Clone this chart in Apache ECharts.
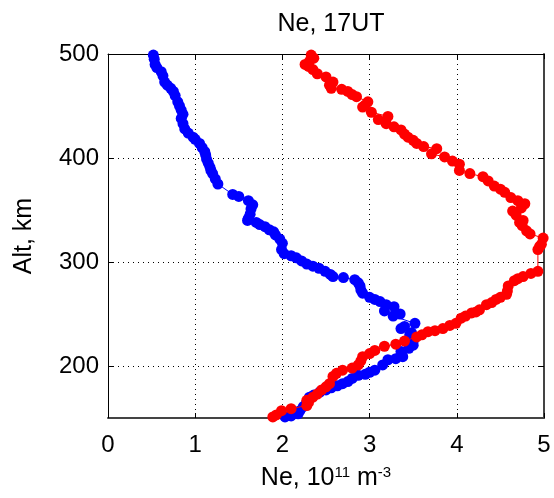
<!DOCTYPE html>
<html>
<head>
<meta charset="utf-8">
<script src="https://cdn.jsdelivr.net/npm/echarts@6/dist/echarts.min.js"></script>
<style>html,body{margin:0;padding:0;background:#fff;}#chart{width:554px;height:498px;}</style>
</head>
<body>
<div id="chart"></div>
<script>
var titleText = 'Ne, 17UT';
var xTicks = [0, 1, 2, 3, 4, 5];
var yTicks = [200, 300, 400, 500];

var blueNe  = [2.03, 2.10, 2.18, 2.20, 2.24, 2.28, 2.31, 2.36, 2.43, 2.50, 2.56, 2.63, 2.69, 2.75, 2.80, 2.87, 2.95, 3.00, 3.06, 3.15, 3.21, 3.30, 3.38, 3.36, 3.45, 3.50, 3.50, 3.46, 3.48, 3.36, 3.40, 3.52, 3.27, 3.35, 3.17, 3.28, 3.19, 3.12, 3.06, 3.00, 2.92, 2.90, 2.89, 2.87, 2.83, 2.70, 2.58, 2.55, 2.49, 2.42, 2.35, 2.28, 2.22, 2.16, 2.10, 2.02, 1.99, 2.00, 1.97, 1.92, 1.90, 1.85, 1.80, 1.74, 1.70, 1.60, 1.61, 1.63, 1.64, 1.66, 1.61, 1.50, 1.43, 1.26, 1.23, 1.20, 1.18, 1.17, 1.15, 1.13, 1.12, 1.11, 1.08, 1.05, 1.00, 0.975, 0.92, 0.88, 0.86, 0.84, 0.86, 0.84, 0.82, 0.80, 0.77, 0.75, 0.72, 0.68, 0.65, 0.63, 0.61, 0.56, 0.54, 0.53, 0.52];
var blueAlt = [151, 152, 154, 157, 161, 165, 170, 172, 175, 177, 179, 181, 183, 185, 188, 191, 192, 194, 196, 201, 206, 207, 209, 214, 217, 220, 224, 230, 232, 236, 238, 241, 248, 250, 253, 257, 259, 262, 264, 266, 270, 273, 277, 280, 283, 285, 286, 288, 291, 294, 296, 298, 301, 304, 306, 308, 312, 318, 322, 326, 329, 331, 334, 336, 338, 340, 342, 346, 351, 355, 359, 363, 365, 375, 380, 385, 388, 391, 395, 399, 403, 406, 410, 414, 418, 420, 424, 428, 433, 438, 442, 446, 450, 454, 460, 464, 467, 470, 473, 479, 483, 487, 490, 495, 499];

var redNe  = [1.89, 1.93, 1.99, 2.10, 2.28, 2.30, 2.28, 2.35, 2.40, 2.45, 2.50, 2.54, 2.58, 2.62, 2.69, 2.80, 2.87, 2.90, 2.92, 3.00, 3.06, 3.17, 3.30, 3.40, 3.54, 3.60, 3.67, 3.75, 3.84, 3.92, 3.99, 4.05, 4.10, 4.17, 4.22, 4.26, 4.34, 4.40, 4.45, 4.50, 4.57, 4.58, 4.59, 4.66, 4.70, 4.76, 4.85, 4.93, 4.93, 4.95, 4.97, 4.99, 4.84, 4.80, 4.75, 4.72, 4.76, 4.68, 4.64, 4.74, 4.78, 4.70, 4.62, 4.55, 4.50, 4.43, 4.36, 4.30, 4.15, 4.03, 4.03, 3.95, 3.86, 3.71, 3.77, 3.62, 3.54, 3.50, 3.44, 3.40, 3.36, 3.28, 3.19, 3.10, 3.21, 3.02, 2.92, 2.95, 2.98, 2.85, 2.80, 2.75, 2.68, 2.56, 2.54, 2.58, 2.50, 2.40, 2.35, 2.30, 2.26, 2.31, 2.36, 2.33];
var redAlt = [151, 153, 157, 159, 162, 165, 167, 170, 173, 177, 180, 183, 190, 193, 196, 198, 201, 205, 209, 212, 215, 219, 221, 224, 228, 230, 233, 234, 236, 239, 241, 246, 248, 251, 252, 254, 259, 261, 264, 266, 269, 272, 277, 282, 284, 286, 289, 291, 312, 315, 317, 323, 327, 330, 335, 338, 340, 345, 349, 352, 356, 359, 362, 367, 370, 373, 378, 382, 385, 388, 394, 397, 401, 404, 409, 411, 414, 417, 420, 423, 427, 430, 433, 437, 440, 444, 449, 451, 454, 459, 461, 464, 466, 467, 470, 473, 478, 481, 485, 488, 490, 493, 496, 499];

function pairs(xs, ys) { var out = []; for (var i = 0; i < xs.length; i++) out.push([xs[i], ys[i]]); return out; }

var FONT = 'Liberation Sans';
var chart = echarts.init(document.getElementById('chart'));
var dotted = { color: '#000', width: 1, type: [1, 4] };
function tick() { return { show: true, inside: true, length: 5, lineStyle: { color: '#000' } }; }
chart.setOption({
  animation: false,
  backgroundColor: '#fff',
  title: { text: titleText, left: 326, top: 7, textAlign: 'center',
    textStyle: { fontFamily: FONT, fontSize: 25, fontWeight: 'normal', color: '#000' } },
  grid: { left: 108, right: 10, top: 54, bottom: 80 },
  xAxis: [{
    type: 'value', min: 0, max: 5, interval: 1, position: 'bottom',
    name: 'Ne, 10{sup|11} m{sup|-3}', nameLocation: 'middle', nameGap: 47,
    nameTextStyle: { fontFamily: FONT, fontSize: 25, color: '#000',
      rich: { sup: { fontFamily: FONT, fontSize: 15, color: '#000', verticalAlign: 'top', padding: [0, 0, 12, 0] } } },
    axisLine: { show: true, onZero: false, lineStyle: { color: '#444', width: 2 } },
    axisTick: tick(),
    axisLabel: { fontFamily: FONT, fontSize: 24, color: '#000', margin: 15,
      formatter: function (v) { return xTicks.indexOf(v) >= 0 ? String(v) : ''; } },
    splitLine: { show: true, lineStyle: dotted }
  }, {
    type: 'value', min: 0, max: 5, interval: 1, position: 'top',
    axisLine: { show: true, onZero: false, lineStyle: { color: '#000', width: 1 } },
    axisTick: tick(), axisLabel: { show: false }, splitLine: { show: false }
  }],
  yAxis: [{
    type: 'value', min: 150, max: 500, interval: 50, position: 'left',
    name: 'Alt, km', nameLocation: 'middle', nameGap: 71, nameRotate: 90,
    nameTextStyle: { fontFamily: FONT, fontSize: 25, color: '#000' },
    axisLine: { show: true, onZero: false, lineStyle: { color: '#000', width: 1 } },
    axisTick: { show: true, inside: true, length: 5, lineStyle: { color: '#000' }, customValues: yTicks },
    axisLabel: { fontFamily: FONT, fontSize: 24, color: '#000', margin: 9, customValues: yTicks },
    splitLine: { show: true, lineStyle: dotted, customValues: yTicks }
  }, {
    type: 'value', min: 150, max: 500, interval: 50, position: 'right',
    axisLine: { show: true, onZero: false, lineStyle: { color: '#444', width: 2 } },
    axisTick: { show: true, inside: true, length: 5, lineStyle: { color: '#000' }, customValues: yTicks },
    axisLabel: { show: false }, splitLine: { show: false }
  }],
  series: [{
    type: 'line', xAxisIndex: 0, yAxisIndex: 0, data: pairs(blueNe, blueAlt),
    symbol: 'circle', symbolSize: 11, showAllSymbol: true,
    itemStyle: { color: '#0000ff' }, lineStyle: { color: '#0000ff', width: 1 }, z: 2
  }, {
    type: 'line', xAxisIndex: 0, yAxisIndex: 0, data: pairs(redNe, redAlt),
    symbol: 'circle', symbolSize: 11, showAllSymbol: true,
    itemStyle: { color: '#ff0000' }, lineStyle: { color: '#ff0000', width: 1 }, z: 3
  }]
});
</script>
</body>
</html>
